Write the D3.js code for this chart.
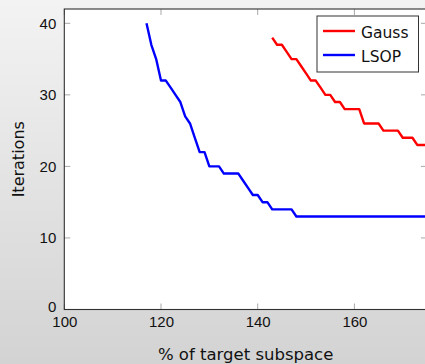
<!DOCTYPE html>
<html>
<head>
<meta charset="utf-8">
<script src="https://cdn.jsdelivr.net/npm/d3@7"></script>
<style>
  html, body { margin: 0; padding: 0; }
  body { width: 425px; height: 364px; overflow: hidden; }
  svg { display: block; font-family: "DejaVu Sans", "Noto Sans", sans-serif; }
</style>
</head>
<body>
<svg id="chart" width="425" height="364"></svg>
<script>
// Iterations needed vs. size of the search subspace (% of target subspace)
const gaussX = [143,144,145,146,147,148,149,150,151,152,153,154,155,156,157,158,159,160,161,162,163,164,165,166,167,168,169,170,171,172,173,174,175];
const gaussY = [38,37,37,36,35,35,34,33,32,32,31,30,30,29,29,28,28,28,28,26,26,26,26,25,25,25,25,24,24,24,23,23,23];

const lsopX = [117,118,119,120,121,122,123,124,125,126,127,128,129,130,131,132,133,134,135,136,137,138,139,140,141,142,143,144,145,146,147,148,150,155,160,165,170,175];
const lsopY = [40,37,35,32,32,31,30,29,27,26,24,22,22,20,20,20,19,19,19,19,18,17,16,16,15,15,14,14,14,14,14,13,13,13,13,13,13,13];

const xTicks = [100, 120, 140, 160];
const yTicks = [0, 10, 20, 30, 40];
const seriesNames = ["Gauss", "LSOP"];
const seriesColors = ["#ff0000", "#0000ff"];

const W = 425, H = 364;
const plotLeft = 64.3, plotTop = 9, plotBottom = 309.5;
const x = d3.scaleLinear().domain([100, 175]).range([plotLeft, plotLeft + 75 * 4.835]);
const y = d3.scaleLinear().domain([0, 42]).range([plotBottom, plotTop]);

const svg = d3.select("#chart");
const defs = svg.append("defs");
const grad = defs.append("linearGradient").attr("id", "bg").attr("x1", 0).attr("y1", 0).attr("x2", 0).attr("y2", 1);
grad.append("stop").attr("offset", "0%").attr("stop-color", "#f3f3f3");
grad.append("stop").attr("offset", "100%").attr("stop-color", "#d3d3d3");
defs.append("clipPath").attr("id", "plotClip").append("rect")
  .attr("x", x(100)).attr("y", y(42)).attr("width", x(175) - x(100)).attr("height", y(0) - y(42));

svg.append("rect").attr("width", W).attr("height", H).attr("fill", "url(#bg)");

// plot area
svg.append("rect")
  .attr("x", x(100)).attr("y", y(42))
  .attr("width", x(175) - x(100)).attr("height", y(0) - y(42))
  .attr("fill", "#ffffff");

// mirrored inward ticks
const tickLen = 6;
const tk = svg.append("g").attr("stroke", "#a8a8a8").attr("stroke-width", 1);
xTicks.forEach(v => {
  tk.append("line").attr("x1", x(v)).attr("x2", x(v)).attr("y1", y(0)).attr("y2", y(0) - tickLen);
  tk.append("line").attr("x1", x(v)).attr("x2", x(v)).attr("y1", y(42)).attr("y2", y(42) + tickLen);
});
yTicks.forEach(v => {
  tk.append("line").attr("x1", x(100)).attr("x2", x(100) + tickLen).attr("y1", y(v)).attr("y2", y(v));
  tk.append("line").attr("x1", x(175)).attr("x2", x(175) - tickLen).attr("y1", y(v)).attr("y2", y(v));
});

// series lines
const line = d3.line().x(d => x(d[0])).y(d => y(d[1]));
const plot = svg.append("g").attr("clip-path", "url(#plotClip)");
plot.append("path").datum(d3.zip(gaussX, gaussY))
  .attr("d", line).attr("fill", "none").attr("stroke", seriesColors[0])
  .attr("stroke-width", 2.4).attr("stroke-linejoin", "round");
plot.append("path").datum(d3.zip(lsopX, lsopY))
  .attr("d", line).attr("fill", "none").attr("stroke", seriesColors[1])
  .attr("stroke-width", 2.4).attr("stroke-linejoin", "round");

// frame
svg.append("rect")
  .attr("x", x(100)).attr("y", y(42))
  .attr("width", x(175) - x(100)).attr("height", y(0) - y(42))
  .attr("fill", "none").attr("stroke", "#303030").attr("stroke-width", 1.1);

// tick labels via d3 axes (no domain / tick lines)
const xAxis = svg.append("g").attr("transform", `translate(0,${y(0)})`)
  .call(d3.axisBottom(x).tickValues(xTicks).tickSize(0).tickPadding(7).tickFormat(d3.format("d")));
xAxis.select(".domain").remove();
xAxis.selectAll("text").attr("font-size", 15).attr("fill", "#111").attr("font-family", null);

const yAxis = svg.append("g").attr("transform", `translate(${x(100)},0)`)
  .call(d3.axisLeft(y).tickValues(yTicks).tickSize(0).tickPadding(8).tickFormat(d3.format("d")));
yAxis.select(".domain").remove();
yAxis.selectAll("text").attr("font-size", 15).attr("fill", "#111").attr("font-family", null);
// the zero label sits just above the "100" label
yAxis.selectAll(".tick").filter(d => d === 0).select("text").attr("dy", "0.1em");

svg.append("text")
  .attr("x", (x(100) + x(175)) / 2).attr("y", 359.5)
  .attr("text-anchor", "middle").attr("font-size", 16.5).attr("fill", "#111")
  .text("% of target subspace");

svg.append("text")
  .attr("transform", `translate(24,${(y(0) + y(42)) / 2}) rotate(-90)`)
  .attr("text-anchor", "middle").attr("font-size", 16).attr("fill", "#111")
  .text("Iterations");

// legend
const lg = svg.append("g").attr("transform", "translate(317,16)");
lg.append("rect").attr("width", 101.5).attr("height", 56)
  .attr("fill", "#ffffff").attr("stroke", "#333").attr("stroke-width", 1);
seriesNames.forEach((name, i) => {
  const cy = 15 + i * 24;
  lg.append("line").attr("x1", 6).attr("x2", 38).attr("y1", cy).attr("y2", cy)
    .attr("stroke", seriesColors[i]).attr("stroke-width", 2.4);
  lg.append("text").attr("x", 44).attr("y", cy + 6.5)
    .attr("font-size", 15.5).attr("fill", "#111").text(name);
});
</script>
</body>
</html>
